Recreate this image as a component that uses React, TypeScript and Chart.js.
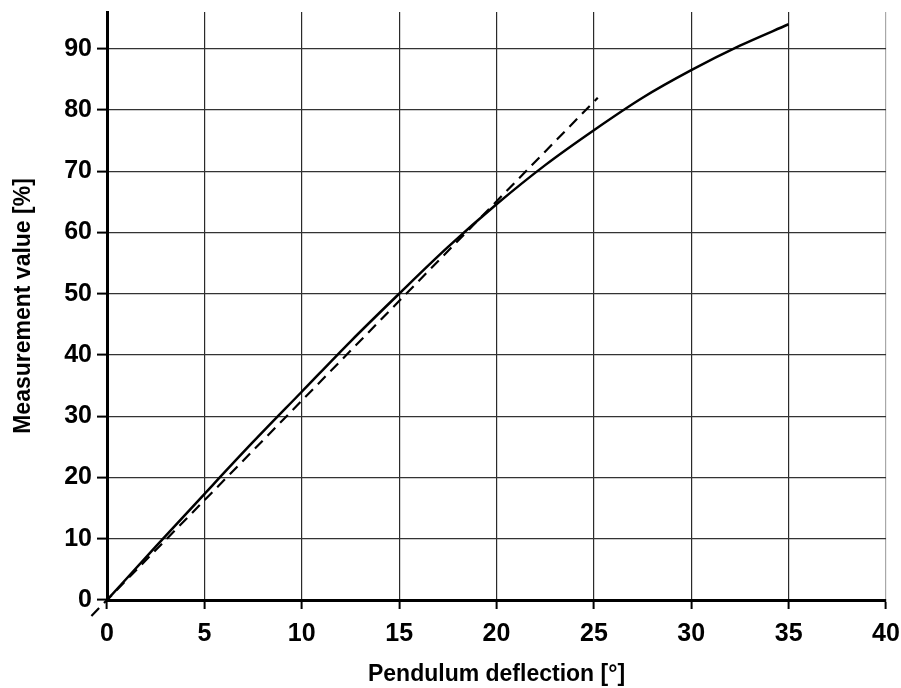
import React, { useEffect, useRef } from "react";
import { Chart, registerables } from "chart.js";

Chart.register(...registerables);

// Measured characteristic (solid curve)
const curveX = [0, 2.5, 5, 7.5, 10, 12.5, 15, 17.5, 20, 22.5, 25, 27.5, 30, 32.5, 35];
const curveY = [0, 8.7, 17.3, 25.8, 34.0, 42.2, 50.0, 57.6, 64.6, 71.0, 76.7, 82.0, 86.5, 90.5, 94.0];

// Linear reference (dashed line)
const tangentX = [-0.8, 25.2];
const tangentY = [-2.6, 82];

const xTitle = "Pendulum deflection [°]";
const yTitle = "Measurement value [%]";

const FONT = "'Liberation Sans', Arial, sans-serif";

export default function App() {
  const ref = useRef<HTMLCanvasElement>(null);

  useEffect(() => {
    document.body.style.margin = "0";
    const canvas = ref.current;
    if (!canvas) return;
    const chart = new Chart(canvas, {
      type: "scatter",
      data: {
        datasets: [
          {
            data: curveX.map((x, i) => ({ x, y: curveY[i] })),
            showLine: true,
            borderColor: "#000",
            backgroundColor: "#000",
            borderWidth: 2.5,
            pointRadius: 0,
            cubicInterpolationMode: "monotone",
            fill: false,
          },
          {
            data: tangentX.map((x, i) => ({ x, y: tangentY[i] })),
            showLine: true,
            borderColor: "#000",
            backgroundColor: "#000",
            borderWidth: 2.2,
            borderDash: [11, 7],
            pointRadius: 0,
            fill: false,
            clip: false,
          },
        ],
      },
      options: {
        animation: false,
        responsive: false,
        devicePixelRatio: 1,
        layout: { padding: { top: 12, right: 15, left: 0, bottom: 0 } },
        plugins: {
          legend: { display: false },
          tooltip: { enabled: false },
        },
        scales: {
          x: {
            type: "linear",
            min: 0,
            max: 40,
            ticks: {
              stepSize: 5,
              color: "#000",
              font: { family: FONT, size: 25, weight: "bold" },
              padding: 10,
              maxRotation: 0,
            },
            grid: {
              color: (ctx: any) => (ctx.tick && ctx.tick.value === 40 ? "#a8a8a8" : "#2a2a2a"),
              lineWidth: 1.2,
              tickLength: 9,
              tickColor: "#000",
              tickWidth: 2,
            },
            border: { color: "#000", width: 3 },
            title: {
              display: true,
              text: xTitle,
              color: "#000",
              font: { family: FONT, size: 23, weight: "bold" },
              padding: { top: 0, bottom: 0 },
            },
            afterFit: (s: any) => {
              s.height = 88;
              s.paddingLeft = 0;
              s.paddingRight = 0;
            },
          },
          y: {
            type: "linear",
            min: 0,
            max: 96,
            afterBuildTicks: (s: any) => {
              s.ticks = s.ticks.filter((t: any) => t.value % 5 === 0);
            },
            ticks: {
              stepSize: 5,
              color: "#000",
              font: { family: FONT, size: 25, weight: "bold" },
              padding: 5,
              callback: (v: any) => (Number(v) % 10 === 0 ? String(v) : ""),
            },
            grid: {
              color: (ctx: any) =>
                ctx.tick && ctx.tick.value % 10 === 0 ? "#333" : "#dcdcdc",
              lineWidth: (ctx: any) => (ctx.tick && ctx.tick.value % 10 === 0 ? 1.2 : 1.5),
              tickLength: 10,
              tickColor: (ctx: any) =>
                ctx.tick && ctx.tick.value % 10 === 0 ? "#000" : "rgba(0,0,0,0)",
              tickWidth: 2,
            },
            border: { color: "#000", width: 3 },
            title: {
              display: true,
              text: yTitle,
              color: "#000",
              font: { family: FONT, size: 23, weight: "bold" },
              padding: { top: 10, bottom: 0 },
            },
            afterFit: (s: any) => {
              s.width = 107;
              s.paddingTop = 0;
              s.paddingBottom = 0;
            },
          },
        },
      },
    });
    return () => chart.destroy();
  }, []);

  return (
    <canvas
      ref={ref}
      width={901}
      height={688}
      style={{ position: "absolute", left: 0, top: 0, width: 901, height: 688 }}
    />
  );
}
